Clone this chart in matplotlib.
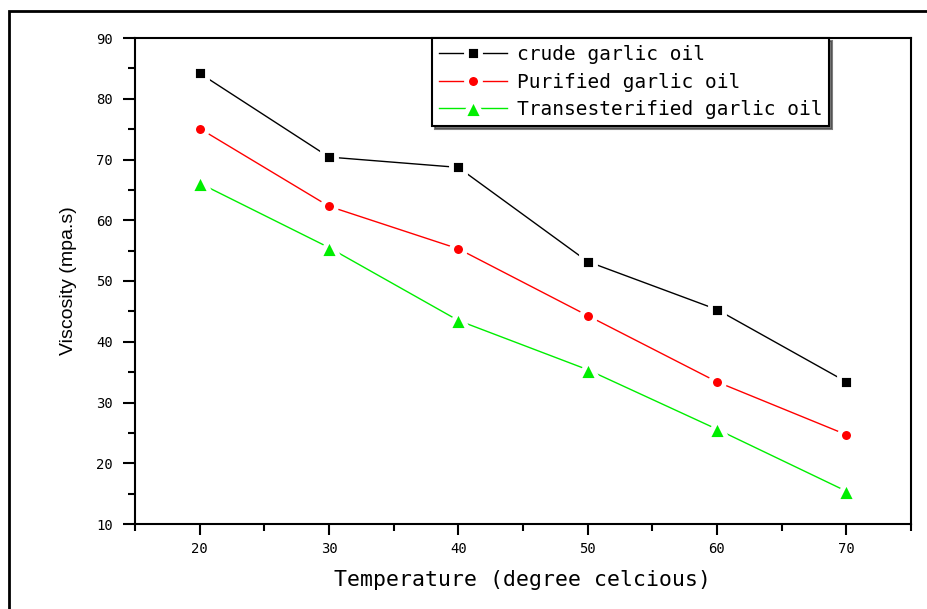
import matplotlib

matplotlib.use("Agg")
import matplotlib.pyplot as plt
from matplotlib.patches import Rectangle
from matplotlib.ticker import MultipleLocator, FuncFormatter

plt.rcParams["font.family"] = ["Liberation Sans", "DejaVu Sans"]

temperature = [20, 30, 40, 50, 60, 70]
crude = [84.2, 70.4, 68.7, 53.2, 45.3, 33.4]
purified = [75.1, 62.3, 55.3, 44.3, 33.4, 24.7]
transesterified = [66.1, 55.5, 43.5, 35.4, 25.6, 15.4]

series = [
    ("crude garlic oil", crude, "black", "s", 9.5),
    ("Purified garlic oil", purified, "#ff0000", "o", 10),
    ("Transesterified garlic oil", transesterified, "#00ee00", "^", 14),
]

MONO = ["DejaVu Sans Mono"]

fig = plt.figure(figsize=(9.28, 6.09), dpi=100)
fig.patches.append(Rectangle((9 / 928, -0.1), 1.2, 0.1 + 1 - 11 / 609,
                             transform=fig.transFigure, fill=False,
                             edgecolor="black", linewidth=2, zorder=0))
ax = fig.add_axes([135 / 928, 1 - 524 / 609, 776 / 928, 486 / 609])

for label, ys, color, marker, ms in series:
    ax.plot(temperature, ys, color=color, linewidth=1, marker=marker,
            markersize=ms, markerfacecolor=color, markeredgecolor="white",
            markeredgewidth=3.5, label=label)

ax.set_xlim(15, 75)
ax.set_ylim(10, 90)
ax.xaxis.set_major_locator(MultipleLocator(10))
ax.xaxis.set_minor_locator(MultipleLocator(5))
ax.yaxis.set_major_locator(MultipleLocator(10))
ax.yaxis.set_minor_locator(MultipleLocator(5))
ax.tick_params(which="major", direction="out", length=8, width=1.5,
               labelsize=10, pad=5, colors="black")
ax.tick_params(which="minor", direction="out", length=5, width=1.5)
ax.tick_params(axis="y", which="major", length=9, pad=7)
ax.xaxis.set_major_formatter(FuncFormatter(lambda v, p: "" if v == 10 else f"{v:.0f}"))
for lab in ax.get_xticklabels() + ax.get_yticklabels():
    lab.set_family(MONO)
for s in ax.spines.values():
    s.set_linewidth(1.5)

ax.set_xlabel("Temperature (degree celcious)", fontsize=15.5,
              family=MONO, labelpad=10)
ax.set_ylabel("Viscosity (mpa.s)", fontsize=14, labelpad=14)

leg = ax.legend(loc="upper left", bbox_to_anchor=(0.383, 1.0),
                borderaxespad=0, fancybox=False, framealpha=1,
                edgecolor="black", shadow={"color": "#444444", "alpha": 0.7},
                prop={"family": MONO, "size": 14},
                handlelength=3.5, handletextpad=0.5, labelspacing=0.45,
                borderpad=0.35)
leg.get_frame().set_linewidth(1.5)

fig.savefig("out.png", dpi=100)
